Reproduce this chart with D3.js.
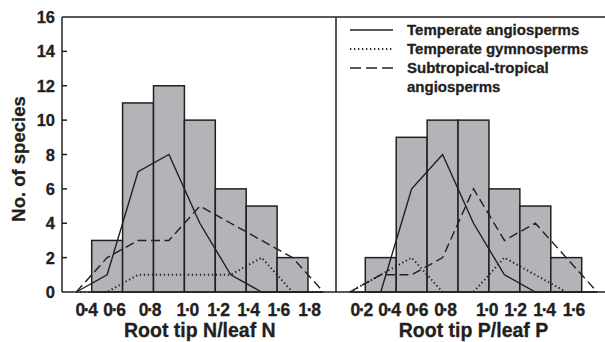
<!DOCTYPE html>
<html>
<head>
<meta charset="utf-8">
<script src="https://cdn.jsdelivr.net/npm/d3@7.9.0/dist/d3.min.js"></script>
<style>
  body { margin: 0; background: #fff; }
  svg text { font-family: "Liberation Sans", Arial, sans-serif; font-weight: 700; fill: #231f20; stroke: #231f20; stroke-width: 0.3px; }
</style>
</head>
<body>
<svg id="chart" width="605" height="342"></svg>
<script>
// Left panel: root tip N / leaf N
const edgesN = [0.4, 0.6, 0.8, 1.0, 1.2, 1.4, 1.6, 1.8];
const countsN = [3, 11, 12, 10, 6, 5, 2];
const midsN = [0.3, 0.5, 0.7, 0.9, 1.1, 1.3, 1.5, 1.7, 1.9];
const angioN = [0, 1, 7, 8, 4, 1, 0, 0, 0];
const gymnoN = [0, 0, 1, 1, 1, 1, 2, 0, 0];
const tropN = [0, 2, 3, 3, 5, 4, 3, 2, 0];
const tickLabelsN = ['0·4', '0·6', '0·8', '1·0', '1·2', '1·4', '1·6', '1·8'];
const tickAtN = [0.36, 0.54, 0.77, 1.015, 1.213, 1.407, 1.604, 1.802]; // where the labels sit in the original

// Right panel: root tip P / leaf P
const edgesP = [0.2, 0.4, 0.6, 0.8, 1.0, 1.2, 1.4, 1.6];
const countsP = [2, 9, 10, 10, 6, 5, 2];
const midsP = [0.1, 0.3, 0.5, 0.7, 0.9, 1.1, 1.3, 1.5, 1.7];
const angioP = [0, 0, 6, 8, 4, 1, 0, 0, 0];
const gymnoP = [0, 1, 2, 0, 0, 2, 1, 0, 0];
const tropP = [0, 1, 1, 2, 6, 3, 4, 2, 0];
const tickLabelsP = ['0·2', '0·4', '0·6', '0·8', '1·0', '1·2', '1·4', '1·6'];
const tickAtP = [0.17, 0.349, 0.528, 0.711, 0.981, 1.164, 1.352, 1.542];

const yTicks = [0, 2, 4, 6, 8, 10, 12, 14, 16];
const legendLabels = ['Temperate angiosperms', 'Temperate gymnosperms', 'Subtropical-tropical'];

const ink = '#231f20';
const styles = {
  solid: { width: 1.4, dash: null },
  dotted: { width: 2, dash: '1.3,2.7' },
  dashed: { width: 1.4, dash: '9,4.5' }
};

const svg = d3.select('#chart');
const y = d3.scaleLinear().domain([0, 16]).range([292, 17]);
const frameLeft = 62, divider = 336, frameRight = 605;

// x scales, one per panel
const xN = d3.scaleLinear().domain([0.4, 1.8]).range([91.7, 308]);
const xP = d3.scaleLinear().domain([0.2, 1.6]).range([365.3, 581.7]);

function drawPanel(x, edges, counts, mids, series, tickLabels, tickAt, title) {
  const g = svg.append('g');

  // histogram bars
  g.selectAll('rect')
    .data(counts)
    .join('rect')
    .attr('x', (d, i) => x(edges[i]))
    .attr('width', (d, i) => x(edges[i + 1]) - x(edges[i]))
    .attr('y', d => y(d))
    .attr('height', d => y(0) - y(d))
    .attr('fill', '#b3b4b8')
    .attr('stroke', ink)
    .attr('stroke-width', 1.5);

  // group lines
  series.forEach(s => {
    const line = d3.line()
      .x((d, i) => x(mids[i]))
      .y(d => y(d));
    g.append('path')
      .datum(s.values)
      .attr('d', line)
      .attr('fill', 'none')
      .attr('stroke', ink)
      .attr('stroke-width', styles[s.style].width)
      .attr('stroke-dasharray', styles[s.style].dash);
  });

  // x tick labels
  g.selectAll('text.tick')
    .data(tickLabels)
    .join('text')
    .attr('class', 'tick')
    .attr('x', (d, i) => x(tickAt[i]) + 0.6)
    .attr('y', 316)
    .attr('text-anchor', 'middle')
    .attr('font-size', 17.5)
    .attr('letter-spacing', -1.3)
    .text(d => d);

  g.append('text')
    .attr('x', (x(edges[0]) + x(edges[edges.length - 1])) / 2)
    .attr('y', 336.5)
    .attr('text-anchor', 'middle')
    .attr('font-size', 19.5)
    .text(title);
}

drawPanel(xN, edgesN, countsN, midsN, [
  { values: angioN, style: 'solid' },
  { values: gymnoN, style: 'dotted' },
  { values: tropN, style: 'dashed' }
], tickLabelsN, tickAtN, 'Root tip N/leaf N');

drawPanel(xP, edgesP, countsP, midsP, [
  { values: angioP, style: 'solid' },
  { values: gymnoP, style: 'dotted' },
  { values: tropP, style: 'dashed' }
], tickLabelsP, tickAtP, 'Root tip P/leaf P');

// frame
const frame = svg.append('g').attr('stroke', ink).attr('stroke-width', 1.5);
frame.append('line').attr('x1', frameLeft).attr('x2', frameRight).attr('y1', y(0)).attr('y2', y(0));
frame.append('line').attr('x1', frameLeft).attr('x2', frameRight).attr('y1', y(16)).attr('y2', y(16));
frame.append('line').attr('x1', frameLeft).attr('x2', frameLeft).attr('y1', y(0)).attr('y2', y(16));
frame.append('line').attr('x1', divider).attr('x2', divider).attr('y1', y(0)).attr('y2', y(16));

// y axis ticks (inward) and labels
frame.selectAll('line.yt')
  .data(yTicks.slice(1, -1))
  .join('line')
  .attr('class', 'yt')
  .attr('x1', frameLeft).attr('x2', frameLeft + 5)
  .attr('y1', d => y(d)).attr('y2', d => y(d));

svg.selectAll('text.ylab')
  .data(yTicks)
  .join('text')
  .attr('class', 'ylab')
  .attr('x', 55)
  .attr('y', d => y(d) + 6)
  .attr('text-anchor', 'end')
  .attr('font-size', 16.5)
  .text(d => d);

svg.append('text')
  .attr('transform', 'translate(25,159) rotate(-90)')
  .attr('text-anchor', 'middle')
  .attr('font-size', 18.5)
  .text('No. of species');

// legend
const legendStyles = ['solid', 'dotted', 'dashed'];
const legend = svg.append('g');
legendLabels.forEach((label, i) => {
  const ly = 35 + i * 19;
  legend.append('line')
    .attr('x1', 350).attr('x2', 393)
    .attr('y1', ly - 5).attr('y2', ly - 5)
    .attr('stroke', ink)
    .attr('stroke-width', styles[legendStyles[i]].width)
    .attr('stroke-dasharray', legendStyles[i] === 'dashed' ? '11,5' : styles[legendStyles[i]].dash);
  legend.append('text')
    .attr('x', 407)
    .attr('y', ly)
    .attr('font-size', 15)
    .text(label);
});
legend.append('text')
  .attr('x', 407)
  .attr('y', 35 + 3 * 19)
  .attr('font-size', 15)
  .text('angiosperms');
</script>
</body>
</html>
